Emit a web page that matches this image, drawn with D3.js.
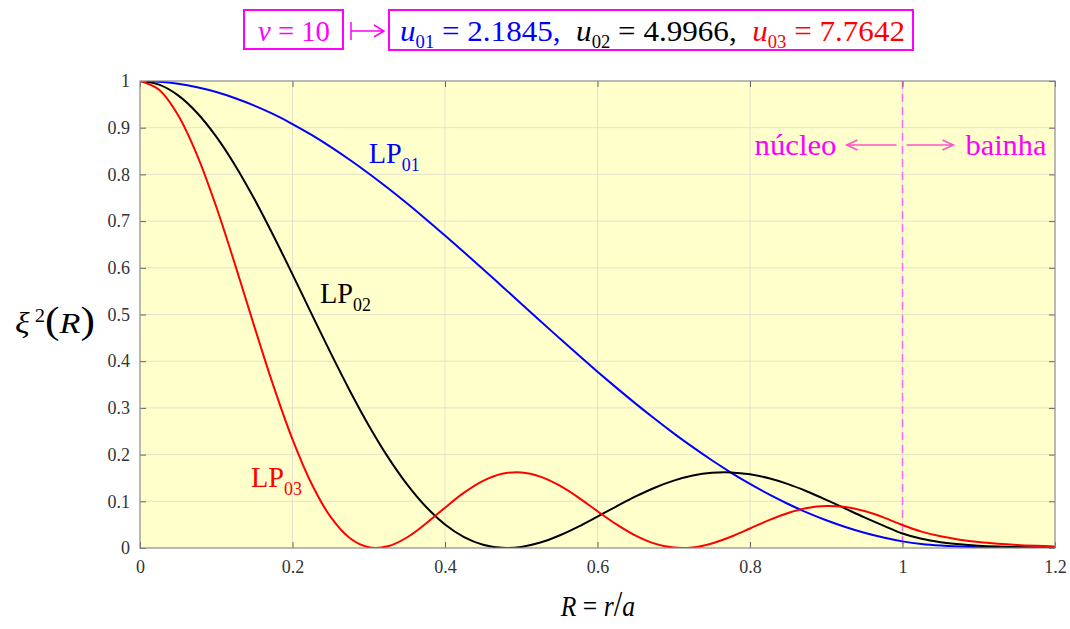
<!DOCTYPE html>
<html>
<head>
<meta charset="utf-8">
<script src="https://cdn.jsdelivr.net/npm/d3@7"></script>
<style>
  body { margin: 0; background: #fff; }
  svg text { font-family: "Liberation Serif", "Times New Roman", Times, serif; }
</style>
</head>
<body>
<svg id="chart" width="1070" height="629" font-family="Liberation Serif, Times New Roman, serif"></svg>
<script>

// normalised radius R = r/a
var rVals = [0, 0.025, 0.05, 0.075, 0.1, 0.125, 0.15, 0.175, 0.2, 0.225, 0.25, 0.275, 0.3, 0.325, 0.35, 0.375,
  0.4, 0.425, 0.45, 0.475, 0.5, 0.525, 0.55, 0.575, 0.6, 0.625, 0.65, 0.675, 0.7, 0.725, 0.75, 0.775,
  0.8, 0.825, 0.85, 0.875, 0.9, 0.925, 0.95, 0.975, 1, 1.025, 1.05, 1.075, 1.1, 1.125, 1.15, 1.175, 1.2];

// xi^2(R)
var lp01 = [1, 0.9985, 0.9941, 0.9866, 0.9764, 0.9632, 0.9474, 0.9289, 0.9079, 0.8846, 0.8590, 0.8314,
  0.8019, 0.7707, 0.7381, 0.7042, 0.6691, 0.6333, 0.5970, 0.5601, 0.5231, 0.4861, 0.4494, 0.4131,
  0.3776, 0.3429, 0.3092, 0.2767, 0.2455, 0.2159, 0.1879, 0.1616, 0.1372, 0.1147, 0.0942, 0.0757,
  0.0593, 0.0449, 0.0326, 0.0224, 0.0142, 0.0085, 0.0051, 0.0031, 0.0018, 0.0011, 0.0007, 0.0004, 0.0002];
var lp02 = [1, 0.9922, 0.9692, 0.9316, 0.8808, 0.8187, 0.7472, 0.6687, 0.5860, 0.5014, 0.4177, 0.3374,
  0.2625, 0.1951, 0.1367, 0.0883, 0.0505, 0.0235, 0.0070, 0.0003, 0.0023, 0.0116, 0.0267, 0.0458,
  0.0673, 0.0893, 0.1104, 0.1291, 0.1442, 0.1551, 0.1610, 0.1619, 0.1578, 0.1492, 0.1367, 0.1210,
  0.1032, 0.0843, 0.0655, 0.0478, 0.0310, 0.0196, 0.0124, 0.0079, 0.0050, 0.0032, 0.0020, 0.0013, 0.0008];
var lp03 = [1, 0.9813, 0.9267, 0.8409, 0.7308, 0.6053, 0.4741, 0.3471, 0.2325, 0.1375, 0.0665, 0.0215,
  0.0016, 0.0036, 0.0225, 0.0523, 0.0863, 0.1185, 0.1438, 0.1588, 0.1618, 0.1529, 0.1339, 0.1080,
  0.0788, 0.0504, 0.0263, 0.0093, 0.0009, 0.0013, 0.0098, 0.0241, 0.0418, 0.0597, 0.0751, 0.0857,
  0.0900, 0.0876, 0.0791, 0.0657, 0.0492, 0.0351, 0.0250, 0.0179, 0.0127, 0.0091, 0.0065, 0.0047, 0.0033];

var modeNames = ["01", "02", "03"];
var modeU = ["2.1845", "4.9966", "7.7642"];
var modeColors = ["#0000ff", "#000000", "#ff0000"];
var modeValues = [lp01, lp02, lp03];
// where each LP label sits, in data units (R, xi^2)
var labelPos = [[0.300, 0.824], [0.236, 0.525], [0.1456, 0.131]];

var xTicks = [0, 0.2, 0.4, 0.6, 0.8, 1, 1.2];
var xTickLabels = ["0", "0.2", "0.4", "0.6", "0.8", "1", "1.2"];
var yTicks = [0, 0.1, 0.2, 0.3, 0.4, 0.5, 0.6, 0.7, 0.8, 0.9, 1];
var yTickLabels = ["0", "0.1", "0.2", "0.3", "0.4", "0.5", "0.6", "0.7", "0.8", "0.9", "1"];

var vNumber = 10;
var coreEdge = 1;

var svg = d3.select("#chart"),
    margin = {top: 81, right: 15, bottom: 81, left: 140},
    width = 1070 - margin.left - margin.right,
    height = 629 - margin.top - margin.bottom;

var x = d3.scaleLinear().domain([0, 1.2]).range([0, width]),
    y = d3.scaleLinear().domain([0, 1]).range([height, 0]);

var magenta = "#ff00ff";
var serif = "Liberation Serif, Times New Roman, serif";

// stretch a text element horizontally so it spans w pixels starting at px
function fit(t, px, py, w) {
  var bb = t.node().getBBox();
  var k = w / bb.width;
  t.attr("transform", "translate(" + (px - bb.x * k) + "," + py + ") scale(" + k + ",1)");
}

var g = svg.append("g")
    .attr("transform", "translate(" + margin.left + "," + margin.top + ")");

g.append("clipPath").attr("id", "clip")
  .append("rect").attr("width", width).attr("height", height);

g.append("rect")
    .attr("width", width)
    .attr("height", height)
    .attr("fill", "#ffffcc");

// grid
g.selectAll(".gx").data(xTicks.slice(1, -1)).enter().append("line")
    .attr("x1", function(d) { return x(d); })
    .attr("x2", function(d) { return x(d); })
    .attr("y1", 0).attr("y2", height)
    .attr("stroke", "#e4e2c6").attr("stroke-width", 1);
g.selectAll(".gy").data(yTicks.slice(1, -1)).enter().append("line")
    .attr("y1", function(d) { return y(d); })
    .attr("y2", function(d) { return y(d); })
    .attr("x1", 0).attr("x2", width)
    .attr("stroke", "#e4e2c6").attr("stroke-width", 1);

// core / cladding boundary
g.append("line")
    .attr("x1", x(coreEdge)).attr("x2", x(coreEdge))
    .attr("y1", 0).attr("y2", height)
    .attr("stroke", "#ff66ff")
    .attr("stroke-width", 1.5)
    .attr("stroke-dasharray", "8,5");

// curves
var line = d3.line()
    .x(function(d) { return x(d[0]); })
    .y(function(d) { return y(d[1]); })
    .curve(d3.curveCatmullRom);

modeValues.forEach(function(vals, i) {
  var pts = rVals.map(function(r, j) { return [r, vals[j]]; });
  g.append("path")
      .datum(pts)
      .attr("clip-path", "url(#clip)")
      .attr("d", line)
      .attr("fill", "none")
      .attr("stroke", modeColors[i])
      .attr("stroke-width", 2);
});

// axes (inward ticks, frame drawn separately)
function styleAxis(a) {
  a.attr("font-family", serif).attr("font-size", 18);
  a.select(".domain").remove();
  a.selectAll(".tick line").attr("stroke", "#666");
  a.selectAll(".tick text").attr("fill", "#333");
}

g.append("g")
    .call(d3.axisLeft(y).tickValues(yTicks).tickSize(-6).tickPadding(10)
      .tickFormat(function(d, i) { return yTickLabels[i]; }))
    .call(styleAxis);
g.append("g")
    .attr("transform", "translate(" + width + ",0)")
    .call(d3.axisRight(y).tickValues(yTicks).tickSize(-6).tickFormat(""))
    .call(styleAxis);
g.append("g")
    .attr("transform", "translate(0," + height + ")")
    .call(d3.axisBottom(x).tickValues(xTicks).tickSize(-6).tickPadding(12)
      .tickFormat(function(d, i) { return xTickLabels[i]; }))
    .call(styleAxis);
g.append("g")
    .call(d3.axisTop(x).tickValues(xTicks).tickSize(-6).tickFormat(""))
    .call(styleAxis);

g.append("rect")
    .attr("width", width)
    .attr("height", height)
    .attr("fill", "none")
    .attr("stroke", "#8a8a8a")
    .attr("stroke-width", 1.2);

// LP labels
modeNames.forEach(function(n, i) {
  var t = svg.append("text")
      .attr("fill", modeColors[i])
      .attr("font-size", 30);
  t.append("tspan").text("LP");
  t.append("tspan").attr("dy", 8).attr("font-size", 19).text(n);
  fit(t, margin.left + x(labelPos[i][0]), margin.top + y(labelPos[i][1]), 51);
});

// núcleo / bainha annotation
var xb = margin.left + x(coreEdge);
var ay = 145;
var arrows = svg.append("g").attr("stroke", "#ff55cc").attr("stroke-width", 1.5).attr("fill", "none");
arrows.append("path").attr("d", "M" + (xb - 6) + "," + ay + "H" + (xb - 56) +
  "M" + (xb - 45) + "," + (ay - 5) + "L" + (xb - 56) + "," + ay + "L" + (xb - 45) + "," + (ay + 5));
arrows.append("path").attr("d", "M" + (xb + 4) + "," + ay + "H" + (xb + 51) +
  "M" + (xb + 40) + "," + (ay - 5) + "L" + (xb + 51) + "," + ay + "L" + (xb + 40) + "," + (ay + 5));

var tn = svg.append("text").attr("fill", magenta).attr("font-size", 30).text("núcleo");
fit(tn, xb - 148, 155, 82);
var tb = svg.append("text").attr("fill", magenta).attr("font-size", 30).text("bainha");
fit(tb, xb + 63, 155, 81);

// title
svg.append("rect").attr("x", 244).attr("y", 10).attr("width", 99).attr("height", 39)
    .attr("fill", "none").attr("stroke", magenta).attr("stroke-width", 2);
svg.append("rect").attr("x", 389).attr("y", 10).attr("width", 524).attr("height", 40)
    .attr("fill", "none").attr("stroke", magenta).attr("stroke-width", 2);

var tv = svg.append("text").attr("fill", magenta).attr("font-size", 30).style("white-space", "pre");
tv.append("tspan").attr("font-style", "italic").text("v");
tv.append("tspan").text(" = " + vNumber);
fit(tv, 258, 41, 72);

// maps-to arrow between the boxes
svg.append("path")
    .attr("d", "M351,22V40M351,31H383M374,25L384,31L374,37")
    .attr("fill", "none")
    .attr("stroke", magenta)
    .attr("stroke-width", 1.5);

var tu = svg.append("text").attr("font-size", 30).style("white-space", "pre");
modeNames.forEach(function(n, i) {
  if (i > 0) tu.append("tspan").text("  ");
  tu.append("tspan").attr("fill", modeColors[i]).attr("font-style", "italic").text("u");
  tu.append("tspan").attr("fill", modeColors[i]).attr("dy", 7).attr("font-size", 18).text(n);
  tu.append("tspan").attr("fill", modeColors[i]).attr("dy", -7)
    .text(" = " + modeU[i] + (i < 2 ? "," : ""));
});
fit(tu, 400, 41, 505);

// axis titles
var ty = svg.append("text").attr("fill", "#000").attr("font-size", 30).style("white-space", "pre");
ty.append("tspan").attr("font-style", "italic").text("\u03BE");
ty.append("tspan").attr("dy", -11).attr("font-size", 18).text(" 2");
ty.append("tspan").attr("dy", 11).attr("font-size", 38).text("(");
ty.append("tspan").attr("font-style", "italic").text("R");
ty.append("tspan").attr("font-size", 38).text(")");
fit(ty, 15, 333, 80);

var tx = svg.append("text").attr("fill", "#000").attr("font-size", 30).style("white-space", "pre");
tx.append("tspan").attr("font-style", "italic").text("R");
tx.append("tspan").text(" = ");
tx.append("tspan").attr("font-style", "italic").text("r");
tx.append("tspan").attr("font-size", 36).text("/");
tx.append("tspan").attr("font-style", "italic").text("a");
fit(tx, 560, 616, 75);

</script>
</body>
</html>
